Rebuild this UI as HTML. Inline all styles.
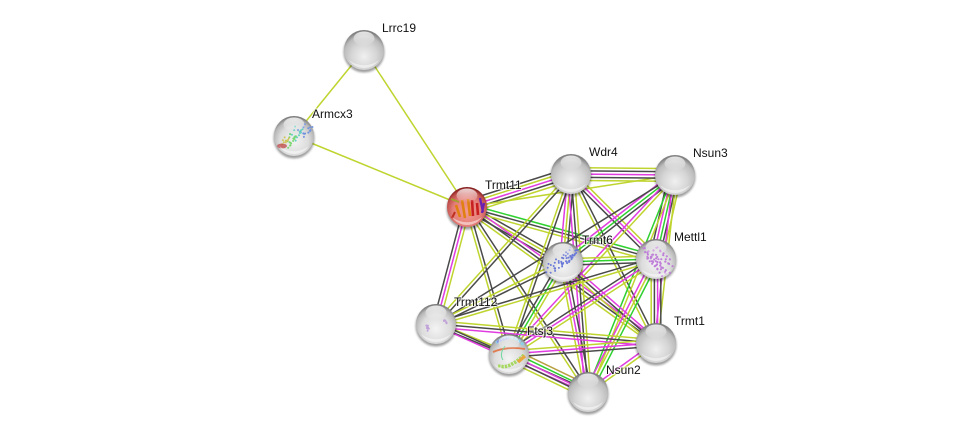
<!DOCTYPE html>
<html><head><meta charset="utf-8"><style>
html,body{margin:0;padding:0;background:#fff;width:976px;height:437px;overflow:hidden}
svg{display:block}
text{font-family:"Liberation Sans",sans-serif;font-size:12px;fill:#111;paint-order:stroke;stroke:rgba(255,255,255,.65);stroke-width:2px}
</style></head><body>
<svg id="s" width="976" height="437" viewBox="0 0 976 437" xmlns="http://www.w3.org/2000/svg">
<defs>
<radialGradient id="gp" cx="50%" cy="66%" r="62%"><stop offset="0" stop-color="#f0f0f0"/><stop offset=".5" stop-color="#d6d6d6"/><stop offset=".82" stop-color="#bcbcbc"/><stop offset="1" stop-color="#808080"/></radialGradient>
<radialGradient id="gs" cx="50%" cy="62%" r="60%"><stop offset="0" stop-color="#f4f4f4"/><stop offset=".6" stop-color="#dcdcdc"/><stop offset=".85" stop-color="#b8b8b8"/><stop offset="1" stop-color="#7c7c7c"/></radialGradient>
<radialGradient id="gr" cx="50%" cy="62%" r="60%"><stop offset="0" stop-color="#f29a92"/><stop offset=".6" stop-color="#e47e78"/><stop offset=".86" stop-color="#c0504c"/><stop offset="1" stop-color="#851c1c"/></radialGradient>
<linearGradient id="hl" x1="0" y1="0" x2="0" y2="1"><stop offset="0" stop-color="#fff" stop-opacity=".8"/><stop offset="1" stop-color="#fff" stop-opacity=".03"/></linearGradient>
<filter id="b" x="-20%" y="-20%" width="140%" height="140%"><feGaussianBlur stdDeviation="1"/></filter>
</defs>
<g id="edges" fill="none" stroke-width="1.5"></g>
<g id="nodes"></g>
<g id="labels">
<text x="382" y="32">Lrrc19</text>
<text x="312" y="118">Armcx3</text>
<text x="485" y="189">Trmt11</text>
<text x="589" y="156">Wdr4</text>
<text x="693" y="157">Nsun3</text>
<text x="582" y="244">Trmt6</text>
<text x="674" y="241">Mettl1</text>
<text x="454" y="306">Trmt112</text>
<text x="527" y="335">Ftsj3</text>
<text x="674" y="325">Trmt1</text>
<text x="606" y="374">Nsun2</text>
</g>
</svg>
<script>
var N={L:[364,50],A:[294,136],T:[467,207],W:[571,174],N:[675,175],R:[563,262],M:[656,259],S:[436,324],F:[509,354],U:[656,343],V:[588,392]};
var C={y:"#bfd42e",k:"#4a4a4a",m:"#e03ce0",g:"#2fd02f",o:"#b8a040"};
var E=[
["L","A","y"],["L","T","y"],["A","T","y"],
["T","W","kymky"],["T","N","y"],["T","R","kyk"],["T","M","gky"],["T","U","mky"],["T","V","ky"],["T","F","ky"],["T","S","ymk"],
["W","N","ykmky"],["W","R","kym"],["W","M","ymk"],["W","U","ky"],["W","V","ykm"],["W","F","ky"],["W","S","ky"],
["N","M","ykgmk"],["N","R","kgm"],["N","U","ym"],["N","V","yg"],["N","F","ym"],["N","S","k"],
["R","M","ygk"],["R","U","mky"],["R","V","kmy"],["R","F","ygk"],["R","S","ky"],
["M","U","kmky"],["M","V","gym"],["M","F","ymk"],["M","S","yk"],
["S","F","yk"],["S","U","ykm"],["S","V","km"],
["F","U","ymk"],["F","V","ogmky"],["U","V","ym"]];
var e=document.getElementById("edges"),n=document.getElementById("nodes"),h="";
E.forEach(function(d){var a=N[d[0]],b=N[d[1]],dx=b[0]-a[0],dy=b[1]-a[1],l=Math.hypot(dx,dy),px=-dy/l,py=dx/l,c=d[2],sp=3.2;
for(var i=0;i<c.length;i++){var o=(i-(c.length-1)/2)*sp;
h+='<line x1="'+(a[0]+px*o).toFixed(1)+'" y1="'+(a[1]+py*o).toFixed(1)+'" x2="'+(b[0]+px*o).toFixed(1)+'" y2="'+(b[1]+py*o).toFixed(1)+'" stroke="'+C[c[i]]+'"/>';}});
e.innerHTML=h;
function dots(cx,cy,col,pts,r0){var r="";pts.forEach(function(p,i){r+='<circle cx="'+(cx+p[0])+'" cy="'+(cy+p[1])+'" r="'+(r0||1)+'" fill="'+(Array.isArray(col)?col[i%col.length]:col)+'"/>';});return r;}
function cl(x0,y0,x1,y1,w,k){var r=[];for(var i=0;i<k;i++){var t=i/(k-1);r.push([+(x0+(x1-x0)*t+Math.sin(i*2.3)*w).toFixed(1),+(y0+(y1-y0)*t+Math.cos(i*1.7)*w).toFixed(1)]);}return r;}
var X={
A:dots(294,136,"#6f92e0",cl(16,-9,8,-2,4,14))+dots(294,136,"#62cfc0",cl(6,-7,0,2,4,14))+dots(294,136,"#7ad870",cl(0,0,-6,9,3,16))+dots(294,136,"#d2c458",cl(-6,2,-12,8,2,10))+'<ellipse cx="282" cy="146" rx="5" ry="2.4" fill="#c05050" opacity=".8"/>',
T:'<path d="M456 205l4 12M462 200l3 18M468 199l2 17" stroke="#e08010" stroke-width="2.6" fill="none"/><path d="M472 200l1 16M477 203l1 12" stroke="#c82020" stroke-width="2.6" fill="none"/><path d="M480 198l3 14M484 203l-2 10" stroke="#6a20b0" stroke-width="2.3" fill="none"/><path d="M451 199l8 3" stroke="#a0a030" stroke-width="2" fill="none"/><path d="M455 212l-3 6" stroke="#c03020" stroke-width="2" fill="none"/>',
R:dots(563,262,"#6a78d8",cl(12,-12,4,-2,4,22).concat(cl(6,-4,-14,8,4,30))),
M:dots(656,259,"#bf7fd8",cl(-8,-8,10,10,7,60),1.1),
S:dots(436,324,"#c0a0d8",cl(-9,1,-8,6,1,8).concat(cl(8,-4,11,-1,1,6))),
F:'<path d="M496 343q8-7 18-5q6 2 10 8" stroke="#8ecfe8" stroke-width="3" fill="none" stroke-dasharray="3 1"/><path d="M493 352q14-6 32-3" stroke="#e07a50" stroke-width="1.8" fill="none"/><path d="M498 366q8 2 14-2q6-3 12-9" stroke="#a6d860" stroke-width="3.6" fill="none" stroke-dasharray="2.4 1"/><path d="M518 362l7-6" stroke="#e8a840" stroke-width="3.4" fill="none"/><path d="M505 346q-6 8-2 14" stroke="#70d8a0" stroke-width="1" fill="none"/><path d="M497 342q6-3 12-4" stroke="#8a90e4" stroke-width="2.2" fill="none" stroke-dasharray="2 1"/>'
};
var g="";
Object.keys(N).forEach(function(k){var c=N[k],x=c[0],y=c[1],f=k=="T"?"gr":(X[k]?"gs":"gp");
g+='<circle cx="'+x+'" cy="'+(y+2)+'" r="20.5" fill="#000" opacity=".38" filter="url(#b)"/>';
g+='<circle cx="'+x+'" cy="'+y+'" r="20" fill="url(#'+f+')"/>';
g+=X[k]||"";
g+='<ellipse cx="'+x+'" cy="'+(y-11.5)+'" rx="10.5" ry="7" fill="url(#hl)"/>';
g+='<path d="M'+(x-15)+' '+(y+10)+'A18 18 0 0 0 '+(x+15)+' '+(y+10)+'A24 24 0 0 1 '+(x-15)+' '+(y+10)+'Z" fill="#fff" opacity=".5"/>';
});
n.innerHTML=g;
</script>
</body></html>
